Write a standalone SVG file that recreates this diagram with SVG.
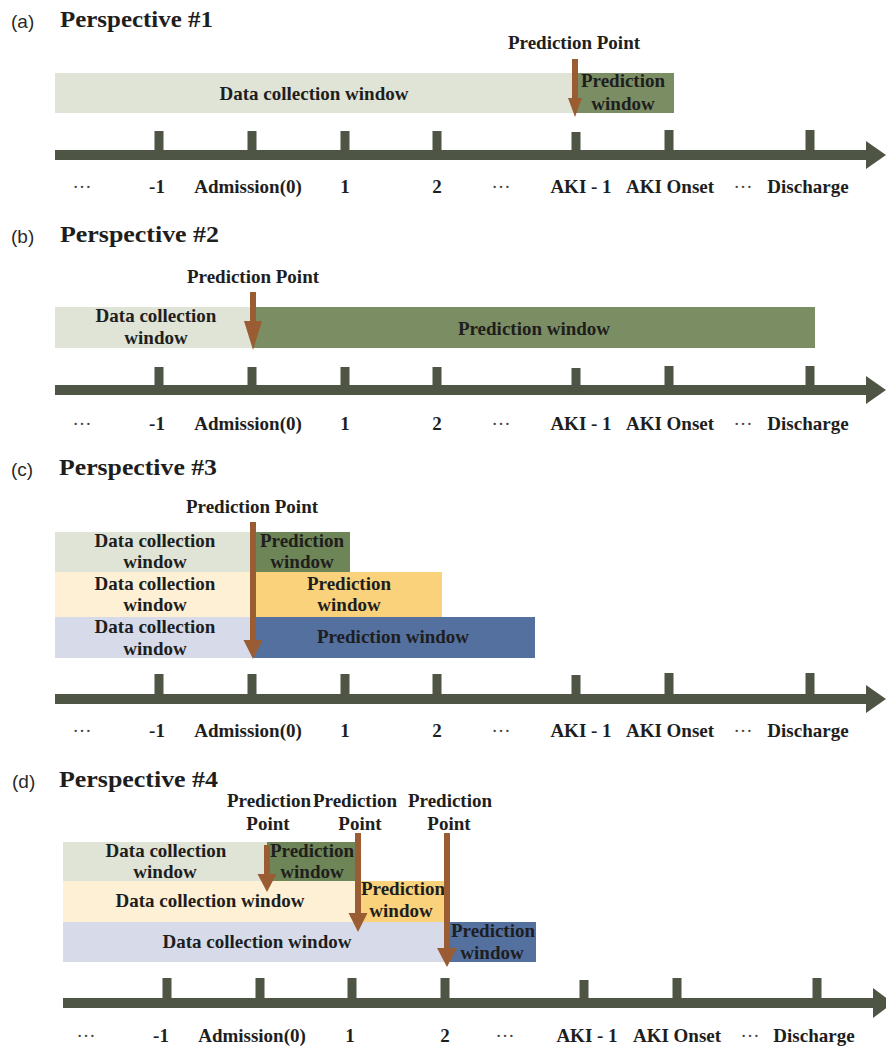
<svg xmlns="http://www.w3.org/2000/svg" width="886" height="1046" viewBox="0 0 886 1046">
<style>
.lbl{font-family:"Liberation Serif","Times New Roman",serif;font-weight:bold;font-size:19px;fill:#1e1e1e;text-anchor:middle}
.dots{font-weight:normal;fill:#444}
.ttl{font-family:"Liberation Serif","Times New Roman",serif;font-weight:bold;font-size:23px;fill:#1e1e1e}
.tag{font-family:"Liberation Sans",Arial,sans-serif;font-size:19px;fill:#2a2a2a}
.axis{fill:#4f5545}
.arr{fill:#9a5d33}
.dc1{fill:#dfe4d6}.pw1{fill:#7b8d63}.pw1d{fill:#6e8558}
.dc2{fill:#fdf0d4}.pw2{fill:#f9d27b}
.dc3{fill:#d7dbe9}.pw3{fill:#53709e}
</style>
<rect width="886" height="1046" fill="#ffffff"/>

<!-- Panel A -->
<g id="panel-a">
  <text class="tag" x="11" y="28">(a)</text>
  <text class="ttl" x="60" y="27" textLength="153" lengthAdjust="spacingAndGlyphs">Perspective #1</text>
  <g id="a-dcw"><rect class="dc1" x="55" y="73" width="520" height="40"/><text class="lbl" x="314" y="100">Data collection window</text></g>
  <g id="a-pw"><rect class="pw1" x="575" y="73" width="99" height="40"/><text class="lbl" x="623" y="87">Prediction</text><text class="lbl" x="623" y="110">window</text></g>
  <g id="a-pp"><text class="lbl" x="574" y="49">Prediction Point</text></g>
  <g id="a-axis">
    <rect class="axis" x="55" y="150" width="813" height="10"/>
    <polygon class="axis" points="866,141 886,155 866,169"/>
    <rect class="axis" x="154.5" y="131" width="9" height="19"/>
    <rect class="axis" x="247.5" y="131" width="9" height="19"/>
    <rect class="axis" x="340.5" y="131" width="9" height="19"/>
    <rect class="axis" x="432.5" y="131" width="9" height="19"/>
    <rect class="axis" x="571.5" y="132" width="9" height="18"/>
    <rect class="axis" x="664.5" y="130" width="9" height="20"/>
    <rect class="axis" x="805.5" y="130" width="9" height="20"/>
  </g>
  <g id="a-labels">
    <text class="lbl dots" x="82" y="188">…</text>
    <text class="lbl" x="157" y="193">-1</text>
    <text class="lbl" x="248" y="193">Admission(0)</text>
    <text class="lbl" x="345" y="193">1</text>
    <text class="lbl" x="437" y="193">2</text>
    <text class="lbl dots" x="501" y="188">…</text>
    <text class="lbl" x="581" y="193">AKI - 1</text>
    <text class="lbl" x="670" y="193">AKI Onset</text>
    <text class="lbl dots" x="743" y="188">…</text>
    <text class="lbl" x="808" y="193">Discharge</text>
  </g>
</g>

<!-- Panel B -->
<g id="panel-b">
  <text class="tag" x="11" y="243">(b)</text>
  <text class="ttl" x="60" y="242" textLength="159" lengthAdjust="spacingAndGlyphs">Perspective #2</text>
  <g id="b-dcw"><rect class="dc1" x="55" y="307" width="198" height="41"/><text class="lbl" x="156" y="322">Data collection</text><text class="lbl" x="156" y="344">window</text></g>
  <g id="b-pw"><rect class="pw1" x="253" y="307" width="562" height="41"/><text class="lbl" x="534" y="335">Prediction window</text></g>
  <g id="b-pp"><text class="lbl" x="253" y="283">Prediction Point</text></g>
  <g id="b-axis">
    <rect class="axis" x="55" y="385" width="813" height="10"/>
    <polygon class="axis" points="866,376 886,390 866,404"/>
    <rect class="axis" x="154.5" y="367" width="9" height="18"/>
    <rect class="axis" x="247.5" y="367" width="9" height="18"/>
    <rect class="axis" x="340.5" y="367" width="9" height="18"/>
    <rect class="axis" x="432.5" y="367" width="9" height="18"/>
    <rect class="axis" x="571.5" y="368" width="9" height="17"/>
    <rect class="axis" x="664.5" y="366" width="9" height="19"/>
    <rect class="axis" x="805.5" y="366" width="9" height="19"/>
  </g>
  <g id="b-labels">
    <text class="lbl dots" x="82" y="425">…</text>
    <text class="lbl" x="157" y="430">-1</text>
    <text class="lbl" x="248" y="430">Admission(0)</text>
    <text class="lbl" x="345" y="430">1</text>
    <text class="lbl" x="437" y="430">2</text>
    <text class="lbl dots" x="501" y="425">…</text>
    <text class="lbl" x="581" y="430">AKI - 1</text>
    <text class="lbl" x="670" y="430">AKI Onset</text>
    <text class="lbl dots" x="743" y="425">…</text>
    <text class="lbl" x="808" y="430">Discharge</text>
  </g>
</g>

<!-- Panel C -->
<g id="panel-c">
  <text class="tag" x="11" y="476">(c)</text>
  <text class="ttl" x="59" y="475" textLength="158" lengthAdjust="spacingAndGlyphs">Perspective #3</text>
  <g id="c-dcw1"><rect class="dc1" x="55" y="532" width="199" height="40"/><text class="lbl" x="155" y="547">Data collection</text><text class="lbl" x="155" y="568">window</text></g>
  <g id="c-pw1"><rect class="pw1d" x="254" y="532" width="96" height="40"/><text class="lbl" x="302" y="547">Prediction</text><text class="lbl" x="302" y="568">window</text></g>
  <g id="c-dcw2"><rect class="dc2" x="55" y="572" width="199" height="45"/><text class="lbl" x="155" y="590">Data collection</text><text class="lbl" x="155" y="611">window</text></g>
  <g id="c-pw2"><rect class="pw2" x="254" y="572" width="188" height="45"/><text class="lbl" x="349" y="590">Prediction</text><text class="lbl" x="349" y="611">window</text></g>
  <g id="c-dcw3"><rect class="dc3" x="55" y="617" width="199" height="41"/><text class="lbl" x="155" y="633">Data collection</text><text class="lbl" x="155" y="655">window</text></g>
  <g id="c-pw3"><rect class="pw3" x="254" y="617" width="281" height="41"/><text class="lbl" x="393" y="643">Prediction window</text></g>
  <g id="c-pp"><text class="lbl" x="252" y="513">Prediction Point</text></g>
  <g id="c-axis">
    <rect class="axis" x="55" y="694" width="813" height="10"/>
    <polygon class="axis" points="866,685 886,699 866,713"/>
    <rect class="axis" x="154.5" y="674" width="9" height="20"/>
    <rect class="axis" x="247.5" y="674" width="9" height="20"/>
    <rect class="axis" x="340.5" y="674" width="9" height="20"/>
    <rect class="axis" x="432.5" y="674" width="9" height="20"/>
    <rect class="axis" x="571.5" y="675" width="9" height="19"/>
    <rect class="axis" x="664.5" y="673" width="9" height="21"/>
    <rect class="axis" x="805.5" y="673" width="9" height="21"/>
  </g>
  <g id="c-labels">
    <text class="lbl dots" x="82" y="732">…</text>
    <text class="lbl" x="157" y="737">-1</text>
    <text class="lbl" x="248" y="737">Admission(0)</text>
    <text class="lbl" x="345" y="737">1</text>
    <text class="lbl" x="437" y="737">2</text>
    <text class="lbl dots" x="501" y="732">…</text>
    <text class="lbl" x="581" y="737">AKI - 1</text>
    <text class="lbl" x="670" y="737">AKI Onset</text>
    <text class="lbl dots" x="743" y="732">…</text>
    <text class="lbl" x="808" y="737">Discharge</text>
  </g>
</g>

<!-- Panel D -->
<g id="panel-d">
  <text class="tag" x="12" y="788">(d)</text>
  <text class="ttl" x="59" y="787" textLength="159" lengthAdjust="spacingAndGlyphs">Perspective #4</text>
  <g id="d-dcw1"><rect class="dc1" x="63" y="842" width="204" height="39"/><text class="lbl" x="166" y="857">Data collection</text><text class="lbl" x="165" y="878">window</text></g>
  <g id="d-pw1"><rect class="pw1d" x="267" y="842" width="90" height="39"/><text class="lbl" x="312" y="857">Prediction</text><text class="lbl" x="312" y="878">window</text></g>
  <g id="d-dcw2"><rect class="dc2" x="63" y="881" width="295" height="41"/><text class="lbl" x="210" y="907">Data collection window</text></g>
  <g id="d-pw2"><rect class="pw2" x="358" y="881" width="87" height="41"/><text class="lbl" x="403" y="895">Prediction</text><text class="lbl" x="401" y="917">window</text></g>
  <g id="d-dcw3"><rect class="dc3" x="63" y="922" width="387" height="40"/><text class="lbl" x="257" y="948">Data collection window</text></g>
  <g id="d-pw3"><rect class="pw3" x="450" y="922" width="86" height="40"/><text class="lbl" x="493" y="937">Prediction</text><text class="lbl" x="492" y="959">window</text></g>
  <g id="d-pp1"><text class="lbl" x="269" y="807">Prediction</text><text class="lbl" x="268" y="830">Point</text></g>
  <g id="d-pp2"><text class="lbl" x="355" y="807">Prediction</text><text class="lbl" x="360" y="830">Point</text></g>
  <g id="d-pp3"><text class="lbl" x="450" y="807">Prediction</text><text class="lbl" x="449" y="830">Point</text></g>
  <g id="d-axis">
    <rect class="axis" x="63" y="998" width="812" height="10"/>
    <polygon class="axis" points="873,988 893,1003 873,1018"/>
    <rect class="axis" x="162.5" y="978" width="9" height="20"/>
    <rect class="axis" x="255.5" y="978" width="9" height="20"/>
    <rect class="axis" x="347.5" y="978" width="9" height="20"/>
    <rect class="axis" x="440.5" y="978" width="9" height="20"/>
    <rect class="axis" x="579.5" y="980" width="9" height="18"/>
    <rect class="axis" x="672.5" y="978" width="9" height="20"/>
    <rect class="axis" x="812.5" y="978" width="9" height="20"/>
  </g>
  <g id="d-labels">
    <text class="lbl dots" x="86" y="1037">…</text>
    <text class="lbl" x="161" y="1042">-1</text>
    <text class="lbl" x="252" y="1042">Admission(0)</text>
    <text class="lbl" x="350" y="1042">1</text>
    <text class="lbl" x="445" y="1042">2</text>
    <text class="lbl dots" x="505" y="1037">…</text>
    <text class="lbl" x="587" y="1042">AKI - 1</text>
    <text class="lbl" x="677" y="1042">AKI Onset</text>
    <text class="lbl dots" x="750" y="1037">…</text>
    <text class="lbl" x="814" y="1042">Discharge</text>
  </g>
</g>

<!-- Connectors: prediction point arrows -->
<g id="connectors">
  <path class="arr" d="M572,59 H578 V98 H582 L575,117 L568,98 H572 Z"/>
  <path class="arr" d="M250,292 H256 V321 H262 L253,350 L244,321 H250 Z"/>
  <path class="arr" d="M250,522 H256 V640 H262.5 L253,659 L243.5,640 H250 Z"/>
  <path class="arr" d="M264,845 H270 V874 H276.5 L267,892 L257.5,874 H264 Z"/>
  <path class="arr" d="M355,833 H361 V913 H367.5 L358,932 L348.5,913 H355 Z"/>
  <path class="arr" d="M444,833 H450 V948 H457 L447,967 L437,948 H444 Z"/>
</g>
</svg>
